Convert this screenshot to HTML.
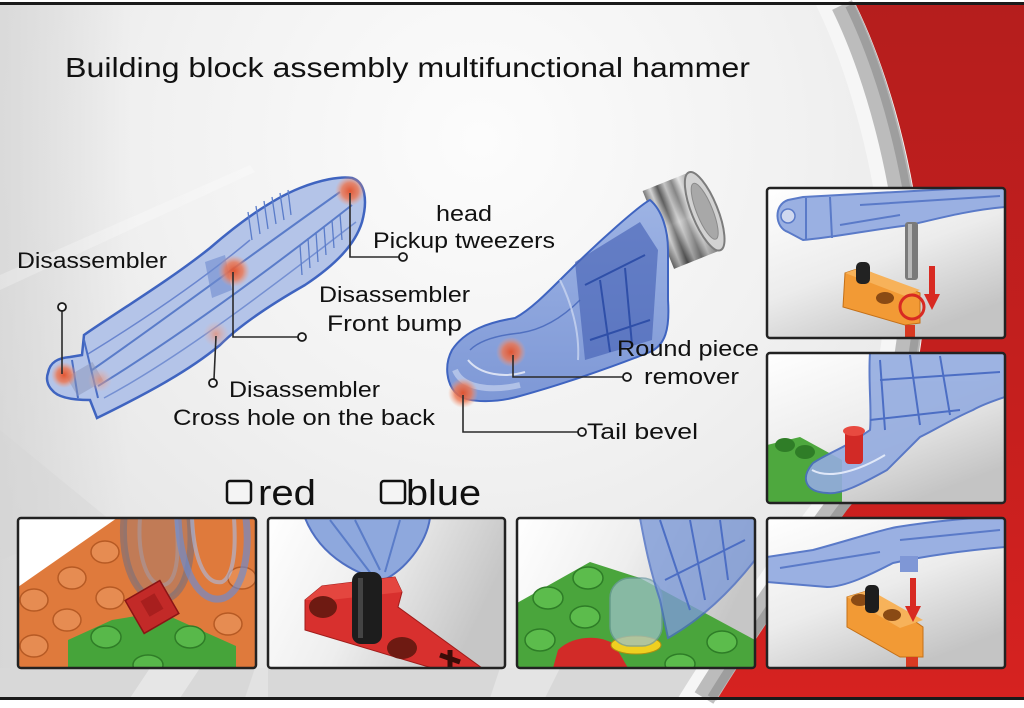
<!DOCTYPE html>
<html><head><meta charset="utf-8"><style>
html,body{margin:0;padding:0;background:#fff;width:1024px;height:708px;overflow:hidden}
svg{display:block}
text{font-family:"Liberation Sans",Arial,sans-serif;fill:#111}
</style></head><body>
<svg width="1024" height="708" viewBox="0 0 1024 708" xmlns="http://www.w3.org/2000/svg">
<defs>
 <radialGradient id="glow" cx="480" cy="140" r="640" gradientUnits="userSpaceOnUse">
   <stop offset="0" stop-color="#fcfcfc"/><stop offset="0.5" stop-color="#f1f1f1"/><stop offset="1" stop-color="#e2e2e2"/>
 </radialGradient>
 <linearGradient id="leftshade" x1="0" y1="0" x2="1" y2="0">
   <stop offset="0" stop-color="#cdcdcd" stop-opacity="0.55"/><stop offset="1" stop-color="#cdcdcd" stop-opacity="0"/>
 </linearGradient>
 <linearGradient id="red" x1="0" y1="0" x2="0" y2="1">
   <stop offset="0" stop-color="#b51e1d"/><stop offset="0.6" stop-color="#c61f1e"/><stop offset="1" stop-color="#d62220"/>
 </linearGradient>
 <radialGradient id="dot"><stop offset="0" stop-color="#e4512a" stop-opacity="0.95"/><stop offset="0.55" stop-color="#ee7650" stop-opacity="0.8"/><stop offset="1" stop-color="#f6a080" stop-opacity="0"/></radialGradient>
 <radialGradient id="dotf"><stop offset="0" stop-color="#ec8a6a" stop-opacity="0.7"/><stop offset="1" stop-color="#f6b09a" stop-opacity="0"/></radialGradient>
 <linearGradient id="pbg" x1="0" y1="0" x2="0.6" y2="1"><stop offset="0" stop-color="#ffffff"/><stop offset="0.55" stop-color="#ececec"/><stop offset="1" stop-color="#c4c4c4"/></linearGradient>
 <linearGradient id="pbg2" x1="0" y1="0" x2="1" y2="0.3"><stop offset="0" stop-color="#ffffff"/><stop offset="0.5" stop-color="#eeeeee"/><stop offset="1" stop-color="#c6c6c6"/></linearGradient>
 <linearGradient id="blueT" x1="0" y1="0" x2="0" y2="1"><stop offset="0" stop-color="#9db3e4"/><stop offset="1" stop-color="#7e98d6"/></linearGradient>
 <linearGradient id="rings" x1="0" y1="0" x2="1" y2="0">
   <stop offset="0" stop-color="#7a7a7a"/><stop offset="0.15" stop-color="#d8d8d8"/><stop offset="0.3" stop-color="#5e5e5e"/>
   <stop offset="0.45" stop-color="#c8c8c8"/><stop offset="0.6" stop-color="#8a8a8a"/><stop offset="0.75" stop-color="#e6e6e6"/><stop offset="1" stop-color="#9a9a9a"/>
 </linearGradient>
 <linearGradient id="shade" x1="0" y1="0" x2="0" y2="1">
   <stop offset="0" stop-color="#000" stop-opacity="0"/><stop offset="0.5" stop-color="#fff" stop-opacity="0.25"/><stop offset="1" stop-color="#000" stop-opacity="0.25"/>
 </linearGradient>
 <clipPath id="c1"><rect x="18" y="518" width="238" height="150" rx="3"/></clipPath>
 <clipPath id="c2"><rect x="268" y="518" width="237" height="150" rx="3"/></clipPath>
 <clipPath id="c3"><rect x="517" y="518" width="238" height="150" rx="3"/></clipPath>
 <clipPath id="c4"><rect x="767" y="518" width="238" height="150" rx="3"/></clipPath>
 <clipPath id="r1"><rect x="767" y="188" width="238" height="150" rx="3"/></clipPath>
 <clipPath id="r2"><rect x="767" y="353" width="238" height="150" rx="3"/></clipPath>
</defs>

<!-- background -->
<rect x="0" y="0" width="1024" height="708" fill="#ffffff"/>
<rect x="0" y="5" width="1024" height="693" fill="url(#glow)"/>
<rect x="0" y="5" width="130" height="693" fill="url(#leftshade)"/>
<polygon points="0,275 250,165 255,172 0,290" fill="#ffffff" opacity="0.25"/>
<polygon points="0,430 110,520 0,560" fill="#d4d4d4" opacity="0.4"/>
<rect x="0" y="668" width="760" height="30" fill="#d8d8d8"/>
<polygon points="150,668 200,668 180,698 130,698" fill="#e6e6e6"/>
<polygon points="500,668 560,668 545,698 490,698" fill="#e4e4e4"/>
<polygon points="255,668 268,668 268,698 245,698" fill="#e2e2e2"/>

<!-- silver band & red region -->
<path d="M816,5 C853,80 884,200 884,300 C884,400 840,470 807,510 C770,560 720,630 678,698 L1024,698 L1024,5 Z" fill="#f6f6f6"/>
<path d="M842,5 C879,80 910,200 910,300 C910,400 866,470 833,510 C796,560 746,630 704,698" fill="none" stroke="#a4a4a4" stroke-width="22" opacity="0.7"/>
<path d="M850,5 C887,80 918,200 918,300 C918,400 874,470 841,510 C804,560 754,630 712,698" fill="none" stroke="#8a8a8a" stroke-width="10" opacity="0.6"/>
<path d="M856,5 C893,80 924,200 924,300 C924,400 880,470 847,510 C810,560 760,630 718,698 L1024,698 L1024,5 Z" fill="url(#red)"/>

<!-- top / bottom rules -->
<rect x="0" y="2" width="1024" height="3" fill="#1a1a1a"/>
<rect x="0" y="697" width="1024" height="3" fill="#1a1a1a"/>

<!-- title -->
<text x="65" y="77" font-size="28" textLength="685" lengthAdjust="spacingAndGlyphs">Building block assembly multifunctional hammer</text>

<!-- LEFT TOOL -->
<g>
 <path d="M48,373 C50,362 58,358 70,357 L82,355 L84,335 C120,310 170,280 210,248 C240,222 270,200 300,188 C320,180 340,176 352,178 C365,182 368,200 362,222 C355,245 335,265 305,285 C270,305 240,325 220,345 C190,370 150,392 97,418 L90,400 C75,400 58,398 52,390 C47,385 46,378 48,373 Z" fill="#b4c4e8" stroke="#3f64c0" stroke-width="2.5"/>
 <path d="M92,370 C150,330 230,270 340,192" fill="none" stroke="#5a7cc9" stroke-width="2"/>
 <path d="M98,386 C165,345 250,285 352,205" fill="none" stroke="#5a7cc9" stroke-width="2"/>
 <path d="M104,398 C175,360 255,300 356,222" fill="none" stroke="#7590d2" stroke-width="1.5"/>
 <path d="M88,354 C140,322 200,282 250,240" fill="none" stroke="#6a86cf" stroke-width="1.5"/>
 <path d="M84,340 L98,398 M72,360 L78,398" stroke="#4a6ec4" stroke-width="2" fill="none"/>
 <g stroke="#5a7cc9" stroke-width="1.3">
  <line x1="248" y1="212" x2="252" y2="240"/><line x1="256" y1="206" x2="260" y2="234"/><line x1="264" y1="201" x2="268" y2="229"/>
  <line x1="272" y1="197" x2="276" y2="224"/><line x1="280" y1="193" x2="284" y2="220"/><line x1="288" y1="190" x2="291" y2="215"/>
  <line x1="300" y1="245" x2="302" y2="275"/><line x1="308" y1="238" x2="310" y2="268"/><line x1="316" y1="232" x2="318" y2="262"/>
  <line x1="324" y1="226" x2="326" y2="255"/><line x1="332" y1="220" x2="334" y2="248"/><line x1="340" y1="214" x2="342" y2="240"/>
 </g>
 <rect x="70" y="368" width="30" height="22" fill="#8a93b8" opacity="0.5" transform="rotate(-30 85 379)"/>
 <path d="M205,262 L225,255 L232,290 L212,298 Z" fill="#6f8ccf" opacity="0.6"/>
</g>
<circle cx="350" cy="191" r="15" fill="url(#dot)"/>
<circle cx="234" cy="271" r="16" fill="url(#dot)"/>
<circle cx="216" cy="334" r="13" fill="url(#dotf)"/>
<circle cx="64" cy="375" r="13" fill="url(#dot)"/>
<circle cx="100" cy="380" r="12" fill="url(#dotf)"/>

<!-- RIGHT TOOL -->
<g>
 <!-- metal head cylinder -->
 <g transform="translate(688,218) rotate(-22)">
  <rect x="-32" y="-42" width="50" height="84" fill="url(#rings)"/>
  <rect x="-32" y="-42" width="50" height="84" fill="url(#shade)"/>
  <ellipse cx="18" cy="0" rx="13" ry="42" fill="#d2d2d2" stroke="#7c7c7c" stroke-width="2"/>
  <ellipse cx="18" cy="0" rx="8" ry="30" fill="#a8a8a8" stroke="#8a8a8a" stroke-width="1"/>
 </g>
 <path d="M650,200 C640,205 600,240 565,275 C545,295 530,310 515,318 C490,322 465,330 452,350 C444,365 446,385 458,395 C470,404 500,402 520,396 C560,385 610,368 650,352 C665,345 670,330 668,300 L668,250 C668,230 662,210 650,200 Z" fill="url(#blueT)" stroke="#3f64c0" stroke-width="2"/>
 <path d="M470,350 C480,340 500,335 520,333 C540,330 560,320 580,300" fill="none" stroke="#5070c0" stroke-width="1.5"/>
 <path d="M575,262 L640,222 L658,250 L652,340 L585,360 Z" fill="#4763b6" opacity="0.65"/>
 <path d="M585,285 L645,255 M590,340 L650,320 M600,280 L610,352 M625,268 L632,345" stroke="#2f4fa8" stroke-width="2" fill="none"/>
 <path d="M468,360 C480,375 505,378 525,372" fill="none" stroke="#ffffff" stroke-width="2" opacity="0.7"/>
 <path d="M455,370 C462,388 490,392 520,385" fill="none" stroke="#dfe7f8" stroke-width="6" opacity="0.5"/>
 <path d="M560,280 C570,300 580,330 578,360" fill="none" stroke="#c8d4f0" stroke-width="2" opacity="0.8"/>
</g>
<circle cx="511" cy="352" r="15" fill="url(#dot)"/>
<circle cx="463" cy="393" r="15" fill="url(#dot)"/>

<!-- connectors -->
<g stroke="#2a2a2a" stroke-width="1.6" fill="none">
 <path d="M62,311 L62,374"/>
 <path d="M350,193 L350,257 L399,257"/>
 <path d="M233,272 L233,337 L298,337"/>
 <path d="M216,336 L214,379"/>
 <path d="M513,355 L513,377 L623,377"/>
 <path d="M463,395 L463,432 L578,432"/>
</g>
<g stroke="#1a1a1a" stroke-width="1.8" fill="#f4f4f4">
 <circle cx="62" cy="307" r="4"/>
 <circle cx="403" cy="257" r="4"/>
 <circle cx="302" cy="337" r="4"/>
 <circle cx="213" cy="383" r="4"/>
 <circle cx="627" cy="377" r="4"/>
 <circle cx="582" cy="432" r="4"/>
</g>

<!-- labels -->
<g font-size="22">
 <text x="17" y="268" textLength="150" lengthAdjust="spacingAndGlyphs">Disassembler</text>
 <text x="436" y="221" textLength="56" lengthAdjust="spacingAndGlyphs">head</text>
 <text x="373" y="248" textLength="182" lengthAdjust="spacingAndGlyphs">Pickup tweezers</text>
 <text x="319" y="302" textLength="151" lengthAdjust="spacingAndGlyphs">Disassembler</text>
 <text x="327" y="331" textLength="135" lengthAdjust="spacingAndGlyphs">Front bump</text>
 <text x="229" y="397" textLength="151" lengthAdjust="spacingAndGlyphs">Disassembler</text>
 <text x="173" y="425" textLength="262" lengthAdjust="spacingAndGlyphs">Cross hole on the back</text>
 <text x="617" y="356" textLength="142" lengthAdjust="spacingAndGlyphs">Round piece</text>
 <text x="644" y="384" textLength="95" lengthAdjust="spacingAndGlyphs">remover</text>
 <text x="587" y="439" textLength="111" lengthAdjust="spacingAndGlyphs">Tail bevel</text>
</g>

<!-- checkboxes -->
<rect x="227" y="481" width="24" height="22" rx="3" fill="#f4f4f4" stroke="#111" stroke-width="2.5"/>
<text x="258" y="505" font-size="36" textLength="58" lengthAdjust="spacingAndGlyphs">red</text>
<rect x="381" y="481" width="24" height="22" rx="3" fill="#f4f4f4" stroke="#111" stroke-width="2.5"/>
<text x="406" y="505" font-size="36" textLength="75" lengthAdjust="spacingAndGlyphs">blue</text>

<!-- PANEL B1 -->
<g clip-path="url(#c1)">
 <rect x="18" y="518" width="238" height="150" fill="#ffffff"/>
 <polygon points="117,518 256,518 256,668 18,668 18,587" fill="#df7a3c"/>
 <g fill="#e68c52" stroke="#b65a24" stroke-width="1.5">
  <ellipse cx="105" cy="552" rx="14" ry="11"/><ellipse cx="72" cy="578" rx="14" ry="11"/>
  <ellipse cx="34" cy="600" rx="14" ry="11"/><ellipse cx="110" cy="598" rx="14" ry="11"/>
  <ellipse cx="67" cy="620" rx="14" ry="11"/><ellipse cx="34" cy="646" rx="14" ry="11"/>
  <ellipse cx="228" cy="624" rx="14" ry="11"/><ellipse cx="242" cy="578" rx="14" ry="11"/>
 </g>
 <polygon points="68,668 68,640 112,620 160,612 236,646 236,668" fill="#46a43a"/>
 <g fill="#58b84a" stroke="#2f7d27" stroke-width="1.5">
  <ellipse cx="106" cy="637" rx="15" ry="11"/><ellipse cx="190" cy="637" rx="15" ry="11"/><ellipse cx="148" cy="665" rx="15" ry="10"/>
 </g>
 <path d="M124,518 C120,565 137,600 160,600 C186,600 194,560 190,518 Z" fill="#8a7f86" opacity="0.35"/>
 <path d="M124,518 C120,565 137,600 160,600 C186,600 194,560 190,518" fill="none" stroke="#7e7078" stroke-width="7" opacity="0.65"/>
 <path d="M140,518 C137,558 148,585 162,585 C177,585 180,555 176,518" fill="none" stroke="#a69aa2" stroke-width="4" opacity="0.6"/>
 <rect x="132" y="588" width="40" height="38" fill="#c22a28" stroke="#8a1515" stroke-width="1.5" transform="rotate(-30 152 607)"/>
 <rect x="144" y="596" width="16" height="18" fill="#a81f1e" transform="rotate(-30 152 605)"/>
 <path d="M178,518 C180,570 200,606 224,598 C244,590 250,552 246,518" fill="none" stroke="#6a8cd2" stroke-width="7" opacity="0.65"/>
 <path d="M192,518 C194,562 206,585 222,582 C234,576 236,548 234,518" fill="none" stroke="#a9bce6" stroke-width="4" opacity="0.6"/>
</g>
<rect x="18" y="518" width="238" height="150" rx="3" fill="none" stroke="#222" stroke-width="2.5"/>

<!-- PANEL B2 -->
<g clip-path="url(#c2)">
 <rect x="268" y="518" width="237" height="150" fill="url(#pbg2)"/>
 <path d="M305,518 L430,518 C426,545 404,570 384,580 C362,576 322,560 305,518 Z" fill="#8ea8dd" stroke="#4f6fc2" stroke-width="2"/>
 <path d="M330,520 L372,575 M355,520 L380,570 M400,520 L385,572" stroke="#5a7cc8" stroke-width="2" fill="none"/>
 <polygon points="305,600 322,586 395,577 402,592 398,607 482,668 432,668 305,630" fill="#d8302e" stroke="#a01c1a" stroke-width="1"/>
 <polygon points="305,600 322,586 395,577 402,592 330,600" fill="#e4463f"/>
 <ellipse cx="323" cy="607" rx="14" ry="11" fill="#6e1a12"/>
 <ellipse cx="402" cy="648" rx="15" ry="11" fill="#6e1a12"/>
 <path d="M440,655 L460,662 M450,650 L450,668" stroke="#3a0c08" stroke-width="5"/>
 <rect x="352" y="572" width="30" height="72" rx="9" fill="#1d1d1d"/>
 <rect x="358" y="578" width="5" height="60" fill="#555" opacity="0.7"/>
</g>
<rect x="268" y="518" width="237" height="150" rx="3" fill="none" stroke="#222" stroke-width="2.5"/>

<!-- PANEL B3 -->
<g clip-path="url(#c3)">
 <rect x="517" y="518" width="238" height="150" fill="url(#pbg2)"/>
 <polygon points="517,668 517,603 590,562 640,578 755,640 755,668" fill="#4aa53c"/>
 <g fill="#5cbc4c" stroke="#2e7d27" stroke-width="1.5">
  <ellipse cx="588" cy="578" rx="15" ry="11"/><ellipse cx="548" cy="598" rx="15" ry="11"/>
  <ellipse cx="585" cy="617" rx="15" ry="11"/><ellipse cx="540" cy="640" rx="15" ry="11"/>
  <ellipse cx="722" cy="642" rx="15" ry="11"/><ellipse cx="680" cy="664" rx="15" ry="10"/>
 </g>
 <path d="M553,668 L558,650 C572,636 598,634 614,644 L628,668 Z" fill="#d22b28"/>
 <ellipse cx="636" cy="645" rx="25" ry="9" fill="#f0d020" stroke="#b09010" stroke-width="1"/>
 <rect x="610" y="578" width="52" height="68" rx="20" fill="#9cc0c6" opacity="0.75" stroke="#6f9aa5" stroke-width="1.5"/>
 <path d="M640,518 L755,518 L755,560 C730,592 700,620 668,638 L660,600 C650,570 645,545 640,518 Z" fill="#7d9ad8" opacity="0.8" stroke="#4c6ec4" stroke-width="2"/>
 <path d="M660,520 L690,610 M690,520 L705,600 M720,520 L728,580 M665,580 L745,540" stroke="#4c6ec4" stroke-width="2" fill="none"/>
</g>
<rect x="517" y="518" width="238" height="150" rx="3" fill="none" stroke="#222" stroke-width="2.5"/>

<!-- PANEL B4 -->
<g clip-path="url(#c4)">
 <rect x="767" y="518" width="238" height="150" fill="url(#pbg)"/>
 <path d="M767,557 L813,550 C850,540 880,530 897,527 C940,520 975,518 1005,516 L1005,547 C970,550 930,555 893,563 C870,575 845,587 827,587 L767,582 Z" fill="#9ab0e2" stroke="#5a7ac8" stroke-width="2"/>
 <path d="M780,568 L880,552 M900,540 L1000,530" stroke="#5a7ac8" stroke-width="2"/>
 <rect x="900" y="556" width="18" height="16" fill="#7f97d6"/>
 <polygon points="847,597 870,590 923,627 923,657 900,657 847,627" fill="#f29a35" stroke="#c47018" stroke-width="1"/>
 <polygon points="847,597 870,590 923,620 900,628" fill="#f7b25a"/>
 <ellipse cx="860" cy="600" rx="9" ry="6" fill="#8a4a14"/>
 <ellipse cx="892" cy="615" rx="9" ry="6" fill="#8a4a14"/>
 <rect x="865" y="585" width="14" height="28" rx="5" fill="#1d1d1d"/>
 <rect x="910" y="578" width="6" height="30" fill="#d82a22"/>
 <polygon points="905,606 921,606 913,622" fill="#d82a22"/>
 <rect x="906" y="657" width="12" height="11" fill="#d83a22"/>
</g>
<rect x="767" y="518" width="238" height="150" rx="3" fill="none" stroke="#222" stroke-width="2.5"/>

<!-- PANEL R1 -->
<g clip-path="url(#r1)">
 <rect x="767" y="188" width="238" height="150" fill="url(#pbg)"/>
 <path d="M788,200 L803,197 C860,194 930,190 1005,186 L1005,207 C970,210 940,218 910,225 C870,230 830,238 803,240 L788,232 C775,228 773,205 788,200 Z" fill="#9ab0e2" stroke="#5a7ac8" stroke-width="2"/>
 <path d="M806,198 L806,240 M830,197 L832,238 M860,205 L1000,196 M840,225 L900,215" stroke="#5a7ac8" stroke-width="2" fill="none"/>
 <circle cx="788" cy="216" r="7" fill="#cfd8ef" stroke="#5a7ac8" stroke-width="1.5"/>
 <rect x="905" y="222" width="13" height="58" rx="3" fill="#7a7a7a"/>
 <rect x="908" y="224" width="4" height="54" fill="#b8b8b8"/>
 <polygon points="845,273 860,268 920,293 920,323 905,325 843,307" fill="#f29a35" stroke="#c47018" stroke-width="1"/>
 <polygon points="845,273 860,268 920,290 905,296" fill="#f7b25a"/>
 <rect x="856" y="262" width="14" height="22" rx="5" fill="#222"/>
 <ellipse cx="885" cy="298" rx="9" ry="6" fill="#8a4a14"/>
 <circle cx="912" cy="307" r="12" fill="none" stroke="#d82a22" stroke-width="3"/>
 <rect x="929" y="266" width="6" height="30" fill="#d82a22"/>
 <polygon points="924,294 940,294 932,310" fill="#d82a22"/>
 <rect x="905" y="325" width="10" height="13" fill="#d83a22"/>
</g>
<rect x="767" y="188" width="238" height="150" rx="3" fill="none" stroke="#222" stroke-width="2.5"/>

<!-- PANEL R2 -->
<g clip-path="url(#r2)">
 <rect x="767" y="353" width="238" height="150" fill="url(#pbg)"/>
 <polygon points="767,445 800,437 842,460 842,503 767,503" fill="#4ea83e"/>
 <ellipse cx="785" cy="445" rx="10" ry="7" fill="#2f7d27"/>
 <ellipse cx="805" cy="452" rx="10" ry="7" fill="#2f7d27"/>
 <path d="M870,353 L1005,353 L1005,397 C990,402 980,406 973,410 C950,420 935,430 920,437 C905,452 895,462 887,470 C860,485 840,495 827,493 C805,492 800,478 813,463 C830,452 845,448 870,430 C872,410 868,380 870,353 Z" fill="#94ace0" opacity="0.9" stroke="#4c6ec4" stroke-width="2"/>
 <path d="M880,360 L885,430 M910,355 L920,425 M940,356 L950,415 M880,380 L1000,372 M870,420 L960,410" stroke="#4c6ec4" stroke-width="2" fill="none"/>
 <path d="M812,470 C830,480 860,470 885,455" fill="none" stroke="#e0e8f8" stroke-width="2"/>
 <rect x="845" y="430" width="18" height="34" rx="4" fill="#d22a26"/>
 <ellipse cx="854" cy="431" rx="11" ry="5" fill="#e84a40"/>
</g>
<rect x="767" y="353" width="238" height="150" rx="3" fill="none" stroke="#222" stroke-width="2.5"/>

</svg>
</body></html>
